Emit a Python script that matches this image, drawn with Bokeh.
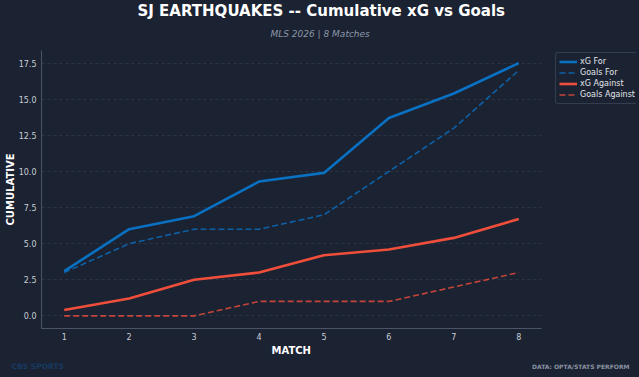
from bokeh.plotting import figure
from bokeh.models import (Range1d, FixedTicker, NumeralTickFormatter, Title,
                          Legend, LegendItem)
from bokeh.embed import file_html
from bokeh.resources import INLINE

# ---- data ----
matches = [1, 2, 3, 4, 5, 6, 7, 8]
xg_for = [3.1, 6.0, 6.9, 9.3, 9.9, 13.7, 15.4, 17.5]
goals_for = [3, 5, 6, 6, 7, 10, 13, 17]
xg_against = [0.4, 1.2, 2.5, 3.0, 4.2, 4.6, 5.4, 6.7]
goals_against = [0, 0, 0, 1, 1, 1, 2, 3]
y_ticks = [0, 2.5, 5, 7.5, 10, 12.5, 15, 17.5]

title_text = "SJ EARTHQUAKES -- Cumulative xG vs Goals"
subtitle_text = "MLS 2026 | 8 Matches"
x_label = "MATCH"
y_label = "CUMULATIVE"
brand_text = "CBS SPORTS"
source_text = "DATA: OPTA/STATS PERFORM"

BG = "#1b2232"
BLUE = "#0a70c2"
RED = "#ef4e3b"
FONT = "DejaVu Sans"

X_LO, X_HI = 0.65, 8.35          # visible data span of the axes
X_EXT = 9.813                     # extra room on the right for the legend
Y_LO, Y_HI = -0.875, 18.375

p = figure(width=639, height=377, output_backend="svg", toolbar_location=None,
           x_range=Range1d(X_LO, X_EXT), y_range=Range1d(Y_LO, Y_HI),
           min_border_left=41, min_border_right=3, min_border_top=50,
           min_border_bottom=49)
p.background_fill_color = BG
p.border_fill_color = BG
p.outline_line_color = None
p.outline_line_alpha = 0
p.styles = {"background-color": BG}

# main title (outermost) and subtitle (inner)
p.title.text = title_text
p.title.align = "left"
p.title.offset = 96
p.title.vertical_align = "bottom"
p.title.standoff = -1
p.title.text_font = FONT
p.title.text_font_style = "bold"
p.title.text_font_size = "15px"
p.title.text_color = "white"

p.add_layout(Title(text=subtitle_text, align="left", offset=229, vertical_align="top",
                   standoff=19, text_font=FONT, text_font_style="italic",
                   text_font_size="9px", text_color="#8c96a6"), "above")

p.xgrid.grid_line_color = None
p.ygrid.grid_line_color = "#3a4456"
p.ygrid.grid_line_dash = "3 3"
p.ygrid.grid_line_width = 0.8
p.ygrid.grid_line_alpha = 0.7
for g in p.ygrid:
    if "cross_bounds" in g.properties():
        g.cross_bounds = (X_LO, X_HI)

for ax in (p.xaxis[0], p.yaxis[0]):
    ax.axis_line_color = "#4a5466"
    ax.major_tick_line_color = None
    ax.minor_tick_line_color = None
    ax.major_tick_out = 0
    ax.major_tick_in = 0
    ax.minor_tick_out = 0
    ax.minor_tick_in = 0
    ax.major_label_text_color = "#c9ced6"
    ax.major_label_text_font = FONT
    ax.major_label_text_font_size = "8px"
    ax.axis_label_text_color = "white"
    ax.axis_label_text_font = FONT
    ax.axis_label_text_font_style = "bold"
    ax.axis_label_text_font_size = "10px"

p.xaxis.bounds = (X_LO, X_HI)
p.xaxis.ticker = FixedTicker(ticks=matches)
p.yaxis.ticker = FixedTicker(ticks=y_ticks)
p.yaxis.formatter = NumeralTickFormatter(format="0.0")
p.yaxis.axis_label = y_label
p.xaxis.major_label_standoff = 4
p.yaxis.major_label_standoff = 5
p.yaxis.axis_label_standoff = 0

# x-axis title centred under the visible axis span (inner-most 'below' panel)
p.add_layout(Title(text=x_label, align="left", offset=230, vertical_align="bottom",
                   standoff=0, text_font=FONT, text_font_style="bold",
                   text_font_size="10px", text_color="white"), "below")

r1 = p.line(matches, xg_for, line_color=BLUE, line_width=2.6)
r2 = p.line(matches, goals_for, line_color=BLUE, line_width=1.6, line_dash="6 3", line_alpha=0.8)
r3 = p.line(matches, xg_against, line_color=RED, line_width=2.6)
r4 = p.line(matches, goals_against, line_color=RED, line_width=1.6, line_dash="6 3", line_alpha=0.8)

legend = Legend(items=[LegendItem(label="xG For", renderers=[r1]),
                       LegendItem(label="Goals For", renderers=[r2]),
                       LegendItem(label="xG Against", renderers=[r3]),
                       LegendItem(label="Goals Against", renderers=[r4])],
                location=(514, 224))
legend.background_fill_color = BG
legend.background_fill_alpha = 1.0
legend.border_line_color = "#4e5869"
legend.border_radius = 3
legend.label_text_color = "#e3e6eb"
legend.label_text_font = FONT
legend.label_text_font_size = "8px"
legend.label_height = 11
legend.glyph_height = 11
legend.glyph_width = 18
legend.label_standoff = 3
legend.spacing = 0
legend.padding = 3
legend.margin = 0
p.add_layout(legend, "center")

# footer: brand and data source pulled onto the same line
p.add_layout(Title(text=brand_text, align="left", offset=-30, vertical_align="bottom",
                   standoff=8, text_font=FONT, text_font_style="bold",
                   text_font_size="7.5px", text_color="#173b62"), "below")
p.add_layout(Title(text=source_text, align="right", offset=7, vertical_align="top",
                   standoff=-24, text_font=FONT, text_font_size="6px",
                   text_color="#8a93a2"), "below")

open("out.html", "w").write(file_html(p, INLINE))
